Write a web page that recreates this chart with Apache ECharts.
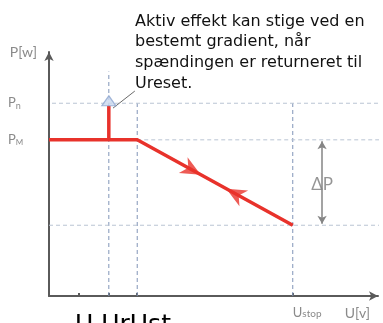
<!DOCTYPE html>
<html>
<head>
<meta charset="utf-8">
<script src="https://cdn.jsdelivr.net/npm/echarts@6/dist/echarts.min.js"></script>
<style>
html,body{margin:0;padding:0;background:#fff;}
#c{width:383px;height:323px;}
</style>
</head>
<body>
<div id="c"></div>
<script>
// Voltage points on the U axis (arbitrary units) and their names
const uTickValues = [10, 20, 29.5, 81.5];
const uTickNames = ['U', 'Ur', 'Ust', 'Ustop'];
// Power levels on the P axis: Pn, PM and the lowest reduced level
const pLevelValues = [79, 64, 29];
const pLevelNames = ['Pn', 'PM', ''];
// Active power characteristic P(U)
const curveU = [0, 29.5, 81.5];
const curveP = [64, 64, 29];
// Step back up once the voltage has returned to Ureset
const stepU = [20, 20];
const stepP = [64, 78];
const stepHeadP = 80;
// Direction markers along the falling branch
const markerU = [47.8, 62.2];
const markerP = [51.7, 42.0];
// Delta P span
const deltaU = 91.3;
const deltaP = [63.4, 29.6];
const deltaLabelP = 45.5;
// Callout leader line
const leaderU = [21.4, 28.7];
const leaderP = [77, 84];
// Extent of the dashed guide lines
const guideTopUr = 92;
const uMax = 110, pMax = 100, uEdge = 111.7;

const note = 'Aktiv effekt kan stige ved en\nbestemt gradient, når\nspændingen er returneret til\nUreset.';

const axisCol = '#5a5a5a';
const labelCol = '#8a8a8a';
const red = '#e8322b';
const hDash = '#b9c4d3';
const vDash = '#8195b8';
// notched arrow head pointing to the right
const arrowHead = 'path://M0,0L12,6L0,12L3.5,6Z';

function seg(xs, ys) { return xs.map((x, i) => [x, ys[i]]); }

const guides = [
  // vertical guides
  { data: seg([uTickValues[1], uTickValues[1]], [0, guideTopUr]), color: vDash },
  { data: seg([uTickValues[2], uTickValues[2]], [0, pLevelValues[0]]), color: vDash },
  { data: seg([uTickValues[3], uTickValues[3]], [0, pLevelValues[0]]), color: vDash },
  // horizontal guides
  { data: seg([1, uEdge], [pLevelValues[0], pLevelValues[0]]), color: hDash },
  { data: seg([uTickValues[2], uEdge], [pLevelValues[1], pLevelValues[1]]), color: hDash },
  { data: seg([0, uEdge], [pLevelValues[2], pLevelValues[2]]), color: hDash }
];

const series = guides.map(g => ({
  type: 'line', data: g.data, symbol: 'none', silent: true, clip: false, z: 1,
  lineStyle: { color: g.color, width: 1, type: [4, 3] }
}));

// main characteristic
series.push({
  type: 'line', data: seg(curveU, curveP), symbol: 'none', z: 5,
  lineStyle: { color: red, width: 3.5 }
});
// power step at Ur
series.push({
  type: 'line', data: seg(stepU, stepP), symbol: 'none', z: 5,
  lineStyle: { color: red, width: 3.5 }
});
series.push({
  type: 'scatter', data: [[stepU[0], stepHeadP]], symbol: 'triangle', symbolSize: [14, 10], z: 6,
  itemStyle: { color: '#c8d7ee', borderColor: '#8ea6cf', borderWidth: 1.2 }
});
// leader line to the note
series.push({
  type: 'line', data: seg(leaderU, leaderP), symbol: 'none', z: 4,
  lineStyle: { color: '#6a6a6a', width: 1 }
});
// direction arrows on the falling branch
series.push({
  type: 'scatter', z: 6,
  data: [
    { value: [markerU[0], markerP[0]], symbolRotate: -28.8 },
    { value: [markerU[1], markerP[1]], symbolRotate: 151.2 }
  ],
  symbol: arrowHead, symbolSize: [20, 18],
  itemStyle: { color: red }
});
// delta P dimension
series.push({
  type: 'line', data: [], z: 3,
  markLine: {
    silent: true, symbol: ['arrow', 'arrow'], symbolSize: [7, 8],
    lineStyle: { color: '#858585', width: 1.5, type: 'solid' },
    label: { show: false },
    data: [[{ coord: [deltaU, deltaP[0]] }, { coord: [deltaU, deltaP[1]] }]]
  }
});
series.push({
  type: 'scatter', z: 4, symbolSize: 0, silent: true,
  data: [[deltaU, deltaLabelP]],
  label: {
    show: true, position: 'inside', formatter: 'ΔP', color: '#7a7a7a',
    fontFamily: 'Lato', fontSize: 17, backgroundColor: '#fff', padding: [3, 0]
  }
});

const subRich = {
  b: { fontFamily: 'Lato', fontSize: 13, color: labelCol },
  s: { fontFamily: 'Lato', fontSize: 9, color: labelCol, padding: [6, 0, 0, 0] },
  sc: { fontFamily: 'Lato', fontSize: 8, color: labelCol, padding: [5, 0, 0, 0] },
  st: { fontFamily: 'Lato', fontSize: 10, color: labelCol, padding: [3, 0, 0, 0] }
};
function subLabel(name, lowerStyle) {
  if (!name) return '';
  const head = name[0], tail = name.slice(1);
  const style = tail === tail.toUpperCase() ? 'sc' : lowerStyle;
  return '{b|' + head + '}{' + style + '|' + tail + '}';
}

const chart = echarts.init(document.getElementById('c'), null, { renderer: 'canvas' });
chart.setOption({
  animation: false,
  backgroundColor: '#fff',
  grid: { left: 49, right: 5, top: 52, bottom: 27 },
  xAxis: {
    type: 'value', min: 0, max: uMax,
    name: 'U[v]', nameLocation: 'end', nameGap: -8,
    nameTextStyle: { fontFamily: 'Lato', fontSize: 14, color: labelCol, align: 'right', verticalAlign: 'top', padding: [10, 0, 0, 0] },
    axisLine: { show: true, symbol: ['none', 'arrow'], symbolSize: [7, 9], lineStyle: { color: axisCol, width: 2 } },
    axisTick: { show: true, inside: true, length: 3, customValues: uTickValues, lineStyle: { color: axisCol, width: 2 } },
    axisLabel: {
      show: true, customValues: [uTickValues[3]], align: 'left', margin: 10,
      formatter: v => subLabel(uTickNames[uTickValues.indexOf(v)], 'st'),
      rich: subRich
    },
    splitLine: { show: false }
  },
  yAxis: {
    type: 'value', min: 0, max: pMax,
    name: 'P[w]', nameLocation: 'end', nameGap: 0,
    nameTextStyle: { fontFamily: 'Lato', fontSize: 14, color: labelCol, align: 'right', verticalAlign: 'middle', padding: [0, 12, 0, 0] },
    axisLine: { show: true, symbol: ['none', 'arrow'], symbolSize: [7, 9], lineStyle: { color: axisCol, width: 2 } },
    axisTick: { show: false },
    axisLabel: {
      show: true, customValues: pLevelValues.slice(0, 2), align: 'left', margin: 41,
      formatter: v => subLabel(pLevelNames[pLevelValues.indexOf(v)], 's'),
      rich: subRich
    },
    splitLine: { show: false }
  },
  graphic: [
    {
      type: 'text', left: 135, top: 11,
      style: { text: note, font: '16px "DejaVu Sans"', fill: '#111', lineHeight: 20.7 }
    },
    {
      type: 'text', left: 75, top: 313,
      style: { text: uTickNames.slice(0, 1).join('') + ' ' + uTickNames.slice(1, 3).join(''), font: '25px "DejaVu Sans"', fill: '#000' }
    }
  ],
  series: series
});
</script>
</body>
</html>
